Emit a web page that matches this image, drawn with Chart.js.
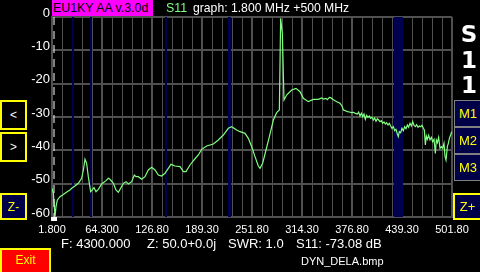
<!DOCTYPE html>
<html><head><meta charset="utf-8">
<script src="https://cdn.jsdelivr.net/npm/chart.js@4"></script>
<style>
html,body{margin:0;padding:0;background:#000;width:480px;height:272px;overflow:hidden;}
#wrap{position:relative;width:480px;height:272px;font-family:'Liberation Sans',Arial,sans-serif;overflow:hidden;}
canvas{position:absolute;left:0;top:0;}
.t{position:absolute;white-space:nowrap;color:#fff;}
.btn{position:absolute;box-sizing:border-box;display:flex;align-items:center;justify-content:center;font-size:12px;}
.big{position:absolute;left:458px;width:22px;text-align:center;color:#fff;font-family:'DejaVu Sans',sans-serif;font-weight:bold;font-size:23px;line-height:23px;}
</style></head><body>
<div id="wrap">
<canvas id="c" width="480" height="272"></canvas>
<div class="t" style="left:52px;top:0;width:101px;height:16px;background:#ff00ff;color:#000;font-size:12.4px;line-height:16px;padding-left:1px;box-sizing:border-box">EU1KY AA v.3.0d</div>
<div class="t" style="left:166px;top:0;font-size:12.4px;line-height:16px;color:#80ff80">S11</div>
<div class="t" style="left:193px;top:0;font-size:12.2px;line-height:16px;">graph: 1.800 MHz +500 MHz</div>

<div class="big" style="top:23px">S</div>
<div class="big" style="top:49px">1</div>
<div class="big" style="top:74px">1</div>

<div class="btn" style="left:0;top:100px;width:27px;height:30px;border:2px solid #ffff00;background:#000;color:#fff">&lt;</div>
<div class="btn" style="left:0;top:132px;width:27px;height:30px;border:2px solid #ffff00;background:#000;color:#fff">&gt;</div>
<div class="btn" style="left:0;top:193px;width:27px;height:27px;border:2px solid #ffff00;background:#000048;color:#ffff00">Z-</div>

<div class="btn" style="left:454px;top:100px;width:28px;height:27px;border:1px solid #808080;background:#000048;color:#ffff00;font-size:13px">M1</div>
<div class="btn" style="left:454px;top:127px;width:28px;height:27px;border:1px solid #808080;background:#000048;color:#ffff00;font-size:13px">M2</div>
<div class="btn" style="left:454px;top:154px;width:28px;height:27px;border:1px solid #808080;background:#000048;color:#ffff00;font-size:13px">M3</div>
<div class="btn" style="left:453px;top:193px;width:29px;height:27px;border:2px solid #ffff00;background:#000048;color:#ffff00;font-size:13px">Z+</div>

<div class="t" style="left:61px;top:236px;font-size:13px;line-height:15px;">F: 4300.000</div>
<div class="t" style="left:147px;top:236px;font-size:13px;line-height:15px;">Z: 50.0+0.0j</div>
<div class="t" style="left:228px;top:236px;font-size:13px;line-height:15px;">SWR: 1.0</div>
<div class="t" style="left:296px;top:236px;font-size:13px;line-height:15px;">S11: -73.08 dB</div>

<div class="btn" style="left:0;top:248px;width:51px;height:26px;border:2px solid #ffff00;background:#ff0000;color:#ffff00;font-size:12px;padding-bottom:2px">Exit</div>
<div class="t" style="left:301px;top:254px;font-size:11px;line-height:14px;">DYN_DELA.bmp</div>
</div>
<script>
// ---- data ----
const freqMHz = [1.8, 2.2, 3.5, 4.7, 5.55, 6.8, 8.5, 11.8, 15.1, 18.05, 22.2, 24.3, 26.4, 30.55, 34.7, 38.9, 41.0, 43.05, 45.1, 47.2,
  50.1, 52.6, 54.3, 56.8, 59.7, 63.9, 69.3, 72.2, 74.3, 78.5, 81.8, 84.7, 87.6, 91.0, 94.3, 97.2, 101.4, 104.7, 106.8, 109.7,
  113.9, 118.05, 122.2, 126.4, 130.55, 134.7, 138.9, 143.05, 147.2, 150.55, 155.55, 161.8, 166.0, 169.3, 174.3, 179.3, 184.7, 188.9, 195.1, 203.5,
  209.7, 216.0, 222.2, 226.4, 232.6, 236.8, 243.1, 247.2, 251.4, 255.55, 259.7, 261.8, 265.1, 269.3, 273.5, 278.5, 282.6, 286.0, 287.6, 289.7,
  291.8, 295.1, 301.4, 306.8, 311.8, 316.0, 322.2, 328.5, 334.7, 338.9, 341.0, 344.3, 346.0, 348.5, 350.1, 352.6, 355.55, 358.5, 361.8, 364.3,
  366.0, 368.5, 371.0, 373.5, 376.0, 378.5, 381.0, 383.5, 385.1, 386.8, 388.5, 390.1, 391.8, 393.5, 395.1, 396.8, 398.5, 400.1, 401.8, 403.5,
  405.1, 406.8, 408.5, 410.1, 411.8, 413.5, 415.1, 416.8, 418.5, 420.1, 421.8, 423.5, 425.1, 426.8, 428.5, 430.1, 431.8, 433.5, 434.7, 436.0,
  437.6, 439.3, 441.0, 442.6, 444.3, 446.0, 447.6, 449.3, 451.0, 452.6, 454.3, 456.0, 457.6, 459.3, 461.0, 462.6, 464.3, 466.0, 467.2, 468.5,
  469.7, 471.0, 472.6, 474.3, 476.0, 477.6, 479.3, 481.0, 482.2, 483.5, 485.1, 486.8, 488.5, 490.1, 491.8, 493.1, 494.3, 496.0, 497.2, 498.5,
  500.1, 501.4];
const s11dB = [-51.4, -51.4, -52.9, -56.9, -59.9, -56.9, -54.9, -53.9, -53.4, -52.9, -52.2, -51.9, -51.4, -50.7, -49.9, -48.4, -45.9, -42.7, -43.9, -47.9,
  -52.4, -51.7, -51.2, -52.4, -51.7, -50.1, -49.1, -48.4, -48.7, -49.9, -51.9, -52.6, -51.4, -49.9, -49.4, -50.1, -49.4, -47.4, -47.9, -47.9,
  -48.7, -47.9, -45.9, -45.1, -45.9, -47.4, -47.7, -46.9, -45.4, -44.2, -44.7, -44.9, -46.4, -46.4, -44.4, -42.9, -41.4, -39.7, -38.7, -38.1,
  -36.9, -35.4, -33.4, -32.9, -33.9, -34.4, -34.9, -36.4, -38.9, -41.9, -44.7, -45.4, -43.9, -39.9, -35.9, -30.9, -28.7, -27.9, -0.4, -4.9,
  -24.9, -23.4, -21.9, -21.4, -22.4, -24.4, -25.4, -24.7, -24.7, -24.3, -24.6, -24.4, -24.8, -24.1, -24.2, -24.7, -25.1, -25.5, -25.9, -26.7,
  -27.9, -28.1, -28.4, -28.5, -28.7, -28.6, -28.9, -29.1, -28.5, -29.7, -28.9, -29.9, -29.1, -30.7, -29.5, -30.1, -29.7, -30.4, -30.1, -30.9,
  -30.3, -31.3, -30.5, -30.9, -31.4, -31.1, -31.9, -31.5, -32.1, -31.7, -32.4, -31.9, -32.7, -33.4, -32.9, -34.1, -33.7, -35.1, -35.9, -34.4,
  -34.7, -33.4, -34.1, -32.9, -33.5, -32.4, -33.1, -31.9, -32.7, -31.4, -32.5, -32.9, -32.3, -33.1, -32.7, -32.9, -32.5, -33.4, -33.9, -38.4,
  -35.7, -36.7, -35.5, -36.9, -36.1, -37.4, -36.7, -40.9, -36.9, -37.7, -36.1, -39.4, -38.9, -39.4, -37.9, -41.9, -42.9, -38.9, -37.9, -36.4,
  -35.4, -34.4];
const bandLoMHz = [28, 50, 144, 222, 430];
const bandHiMHz = [29.7, 52, 146, 225, 440];
const xTickLabels = ['1.800', '64.300', '126.80', '189.30', '251.80', '314.30', '376.80', '439.30', '501.80'];
const yTickValues = [0, -10, -20, -30, -40, -50, -60];
const yTickLabels = ['0', '-10', '-20', '-30', '-40', '-50', '-60'];
const cursorMHz = [4.3];
const startMHz = 1.8, spanMHz = 500, gridDivs = 40;

// ---- chart ----
const gridVals = [];
for (let i = 0; i <= gridDivs; i++) gridVals.push(startMHz + spanMHz * i / gridDivs);

const bandPlugin = {
  id: 'bands',
  beforeDatasetsDraw(chart) {
    const { ctx, chartArea: a, scales: { x } } = chart;
    ctx.save();
    ctx.fillStyle = '#000050';
    bandLoMHz.forEach((lo, i) => {
      const x1 = Math.floor(x.getPixelForValue(lo));
      const x2 = Math.round(x.getPixelForValue(bandHiMHz[i]));
      ctx.fillRect(x1, a.top, Math.max(x2 - x1, 1), a.bottom - a.top);
    });
    ctx.restore();
  },
  afterDatasetsDraw(chart) {
    const { ctx, chartArea: a, scales: { x } } = chart;
    ctx.save();
    ctx.fillStyle = '#ffffff';
    const px = Math.round(x.getPixelForValue(cursorMHz[0]));
    ctx.fillRect(px - 3, a.bottom, 6, 4);
    ctx.restore();
  }
};

Chart.defaults.font.family = "'Liberation Sans', Arial, sans-serif";
Chart.defaults.color = '#ffffff';

new Chart(document.getElementById('c'), {
  type: 'line',
  data: {
    datasets: [
      {
        data: cursorMHz.flatMap(f => [{ x: f, y: yTickValues[0] }, { x: f, y: yTickValues[yTickValues.length - 1] }]),
        borderColor: '#ffffff', borderWidth: 1, borderDash: [8, 6], pointRadius: 0, fill: false
      },
      {
        data: freqMHz.map((f, i) => ({ x: f, y: s11dB[i] })),
        borderColor: '#80ff80', borderWidth: 1.2, pointRadius: 0, tension: 0, fill: false
      }
    ]
  },
  options: {
    responsive: false,
    animation: false,
    events: [],
    layout: { padding: { left: 0, right: 28, top: 17, bottom: 0 } },
    plugins: { legend: { display: false }, tooltip: { enabled: false } },
    scales: {
      x: {
        type: 'linear', min: startMHz, max: startMHz + spanMHz,
        afterBuildTicks: (s) => { s.ticks = gridVals.map(v => ({ value: v })); },
        afterFit: (s) => { s.height = 55; },
        grid: { color: '#505050', lineWidth: (c) => (c.index % 5 === 0 ? 2 : 1), drawTicks: false },
        border: { color: '#505050', width: 2 },
        ticks: {
          autoSkip: false, maxRotation: 0, padding: 6, color: '#ffffff',
          font: { size: 11 },
          callback: (v, i) => (i % 5 === 0 ? xTickLabels[i / 5] : '')
        }
      },
      y: {
        type: 'linear', min: -60, max: 0,
        afterFit: (s) => { s.width = 52; },
        grid: { color: '#505050', lineWidth: 2, drawTicks: false },
        border: { color: '#505050', width: 2 },
        ticks: {
          stepSize: 10, padding: 2, labelOffset: -4, color: '#ffffff',
          font: { size: 13 },
          callback: (v) => { const k = yTickValues.indexOf(v); return k >= 0 ? yTickLabels[k] : ''; }
        }
      }
    }
  },
  plugins: [bandPlugin]
});
</script>
</body></html>
